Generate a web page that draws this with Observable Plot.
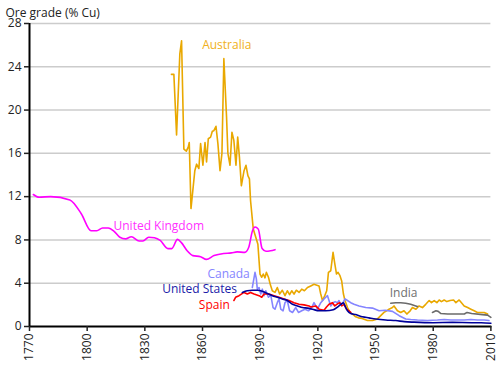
<!DOCTYPE html>
<html><head><meta charset="utf-8">
<script src="https://cdn.jsdelivr.net/npm/d3@7"></script>
<script src="https://cdn.jsdelivr.net/npm/@observablehq/plot@0.6"></script>
<style>body{margin:0;background:#fff} svg{display:block}</style>
</head><body><div id="chart"></div>
<script>
const xTicks = [1770,1800,1830,1860,1890,1920,1950,1980,2010];
const yTicks = [0,4,8,12,16,20,24,28];
const gridValues = [4,8,12,16,20,24,28];

const ukYears = [1772,1775,1781,1791,1797,1802,1805,1808,1811,1814,1817,1820,1823,1827,1829,1832,1835,1838,1842,1844,1847,1849,1852,1855,1859,1862,1866,1871,1875,1878,1882,1884,1886,1887.3,1889,1891,1893,1895.4,1897.7];
const ukValues = [12.2,11.95,12.0,11.7,10.4,8.85,8.85,9.1,9.1,8.8,8.25,8.1,8.3,7.9,7.9,8.25,8.2,7.95,7.2,7.2,8.05,7.75,7.0,6.55,6.45,6.2,6.55,6.75,6.8,6.9,6.85,7.3,8.85,9.2,9.0,7.2,6.95,7.0,7.1];

const auYears = [1843.8,1845.1,1846.5,1848.2,1849.1,1850.3,1851.6,1852.6,1853.1,1854.0,1856.0,1856.9,1858.1,1859.0,1860.2,1861.3,1862.1,1863.0,1864.2,1865.1,1865.9,1867.0,1868.0,1869.1,1870.1,1871.1,1872.5,1873.2,1874.3,1875.3,1876.3,1877.4,1878.3,1879.2,1880.2,1881.6,1882.6,1883.6,1884.4,1885.0,1886.4,1888.8,1889.9,1890.8,1891.6,1892.5,1893.2,1894.3,1895.3,1896.3,1897.7,1898.9,1900.1,1901.5,1902.9,1904.1,1905.3,1906.4,1907.6,1908.8,1910.2,1911.6,1913.0,1914.6,1916.3,1918.0,1920.6,1921.5,1922.4,1923.6,1924.6,1925.5,1926.7,1927.9,1928.8,1929.7,1930.5,1931.5,1932.4,1933.3,1934.1,1935.4,1936.7,1938.0,1939.7,1941.1,1943.0,1945.8,1948.4,1951.0,1952.7,1954.4,1955.8,1957.0,1958.8,1959.6,1961.4,1963.1,1964.8,1966.3,1968.0,1969.2,1971.0,1972.6,1974.4,1976.1,1977.9,1979.1,1980.5,1981.9,1983.1,1984.3,1985.7,1987.1,1988.8,1990.6,1991.8,1993.5,1994.7,1996.1,1997.9,1999.6,2001.3,2003.0,2004.8,2006.5,2008.3];
const auValues = [23.3,23.3,17.7,25.2,26.4,16.4,16.2,16.6,17.0,10.9,14.4,15.0,14.6,16.9,14.9,17.0,15.2,17.35,17.5,18.05,18.1,18.5,16.9,14.4,16.0,24.75,19.35,16.0,14.9,17.95,17.2,14.9,17.5,15.65,13.0,14.4,14.9,13.95,13.65,11.6,9.0,7.6,4.85,4.55,4.85,4.5,5.0,4.55,3.85,3.3,3.15,3.6,3.0,3.35,2.85,3.3,2.95,3.3,3.0,3.35,3.15,3.45,3.3,3.6,3.75,3.9,3.75,3.0,2.4,2.85,3.3,5.0,5.15,6.85,5.8,4.85,5.0,4.7,4.2,3.0,2.4,1.75,1.3,1.15,0.9,0.8,0.75,0.55,0.55,0.7,1.0,1.3,1.45,1.6,1.75,1.9,1.45,1.3,1.45,1.15,1.45,1.75,1.6,1.9,1.75,2.05,2.4,2.2,2.4,2.2,2.45,2.3,2.45,2.3,2.4,2.45,2.2,2.45,2.2,1.9,1.75,1.6,1.45,1.3,1.3,1.3,1.15];

const caYears = [1885.9,1887.3,1888.0,1888.5,1889.4,1890.3,1891.1,1892.0,1892.9,1894.3,1895.5,1896.7,1897.7,1898.9,1899.8,1900.7,1901.9,1902.9,1904.1,1905.3,1906.8,1908.5,1909.9,1911.6,1913.3,1915.1,1916.8,1918.0,1919.8,1921.5,1923.2,1924.1,1925.0,1925.8,1926.7,1927.9,1929.0,1930.2,1931.0,1931.9,1933.1,1934.1,1935.4,1937.1,1938.8,1941.4,1944.9,1948.4,1951.8,1955.0,1958.8,1962.3,1965.7,1968.3,1971.8,1977.0,1982.2,1985.7,1989.2,1992.6,1996.1,1999.6,2003.0,2006.5,2009.0];
const caValues = [3.6,5.0,4.4,3.45,3.6,3.0,3.45,2.85,3.3,2.7,2.9,1.75,1.6,2.2,2.55,1.6,1.45,2.2,2.4,1.45,1.3,1.75,1.3,1.45,1.6,1.45,1.75,2.2,1.6,2.2,2.55,2.7,2.85,2.4,1.9,2.2,2.3,2.2,2.4,2.05,2.2,2.55,2.4,2.2,2.05,1.9,1.75,1.7,1.45,1.5,1.4,1.0,0.7,0.65,0.6,0.55,0.6,0.65,0.6,0.6,0.6,0.65,0.6,0.6,0.55];

const usYears = [1880.7,1883.3,1885.9,1888.5,1891.1,1893.7,1896.3,1898.9,1901.5,1904.1,1906.8,1909.4,1912.0,1914.6,1917.2,1920.6,1924.1,1928.0,1931.0,1932.4,1933.3,1934.1,1935.4,1937.1,1939.7,1943.2,1946.6,1950.1,1955.3,1960.5,1965,1970,1980,1990,2000,2005,2010];
const usValues = [3.15,3.3,3.35,3.35,3.25,3.05,2.85,2.7,2.55,2.4,2.05,1.9,1.75,1.7,1.6,1.45,1.45,1.55,1.9,2.1,2.2,1.9,1.45,1.2,1.1,0.9,0.8,0.7,0.6,0.55,0.45,0.4,0.35,0.38,0.35,0.35,0.3];

const esYears = [1876.3,1877.2,1879.0,1881.6,1883.3,1885.0,1886.8,1889.4,1890.8,1892.0,1894.6,1897.2,1899.8,1902.4,1905.0,1907.6,1910.2,1912.8,1915.4,1916.3,1918.9,1920.6,1923.2,1924.5,1925.8,1927.6,1928.8,1930.2,1931.4,1932.4,1933.6,1934.9,1936.2,1937.1];
const esValues = [2.4,2.7,2.85,3.15,3.0,3.15,3.0,2.85,2.7,3.0,3.0,2.85,2.7,2.55,2.4,2.2,2.05,2.0,1.9,1.8,1.9,1.6,1.5,1.8,2.05,2.2,1.9,2.1,2.2,1.9,2.05,1.6,1.45,1.3];

const inYears = [1957.9,1960.5,1963.1,1965.7,1968.3,1970.9,1971.8,1975,1979.6,1981.4,1982.6,1984.0,1987.5,1992.7,1996.2,1997.6,2000,2005.6,2008.3,2010.0];
const inValues = [2.15,2.2,2.2,2.15,2.05,1.9,1.85,null,1.3,1.45,1.4,1.2,1.15,1.15,1.15,1.3,1.2,1.1,1.05,0.85];

const seriesColors = ["#e9a800","#ff00ff","#8585ff","#ff0000","#00009a","#6b6b6b"];
const labelNames = ["Australia","United Kingdom","Canada","Spain","United States","India"];
const labelColors = ["#f0b020","#ff30ff","#8585ff","#ff0000","#1a1aa8","#707070"];
const labelYears = [1859.8,1813.7,1862.6,1858.1,1839.0,1957.4];
const labelValues = [26.0,9.3,4.85,2.0,3.45,3.1];

const seriesData = [
  [auYears, auValues, "linear"],
  [ukYears, ukValues, "monotone-x"],
  [caYears, caValues, "linear"],
  [esYears, esValues, "linear"],
  [usYears, usValues, "monotone-x"],
  [inYears, inValues, "linear"]
];

const lineMarks = seriesData.map(([ys, vs, curve], i) => {
  const rows = ys.map((yr, j) => ({year: yr, value: vs[j]}));
  return Plot.line(rows, {x: "year", y: "value", stroke: seriesColors[i], strokeWidth: 1.6, curve});
});

const labels = labelNames.map((n, i) => ({name: n, year: labelYears[i], value: labelValues[i], color: labelColors[i]}));

const chart = Plot.plot({
  width: 500, height: 367,
  marginLeft: 29, marginRight: 0, marginTop: 23, marginBottom: 41,
  style: {fontFamily: "'Open Sans', sans-serif", fontSize: "12px", background: "#fff", color: "#222"},
  x: {domain: [1770, 2015], label: null},
  y: {domain: [0, 28], label: null},
  marks: [
    Plot.ruleY(gridValues, {x1: 1770, x2: 2010, stroke: "#cccccc", strokeWidth: 1.5}),
    ...lineMarks,
    Plot.ruleX([1770], {y1: 0, y2: 28, stroke: "#000", strokeWidth: 2}),
    Plot.ruleY([0], {x1: 1770, x2: 2010.5, stroke: "#000", strokeWidth: 2}),
    Plot.axisY({ticks: yTicks, tickSize: 5, tickPadding: 3, fontSize: 12, label: null, strokeWidth: 1.5}),
    Plot.axisX({ticks: xTicks, tickSize: 5, tickPadding: 2, tickRotate: -90, tickFormat: d => String(d), fontSize: 12, label: null, strokeWidth: 1.5}),
    Plot.text(labels, {x: "year", y: "value", text: "name", fill: "color", textAnchor: "start", fontSize: 12}),
    Plot.text(["Ore grade (% Cu)"], {frameAnchor: "top-left", dx: -24, dy: -15, textAnchor: "start", fontSize: 12, fill: "#222"})
  ]
});
document.getElementById("chart").appendChild(chart);
</script>
</body></html>
